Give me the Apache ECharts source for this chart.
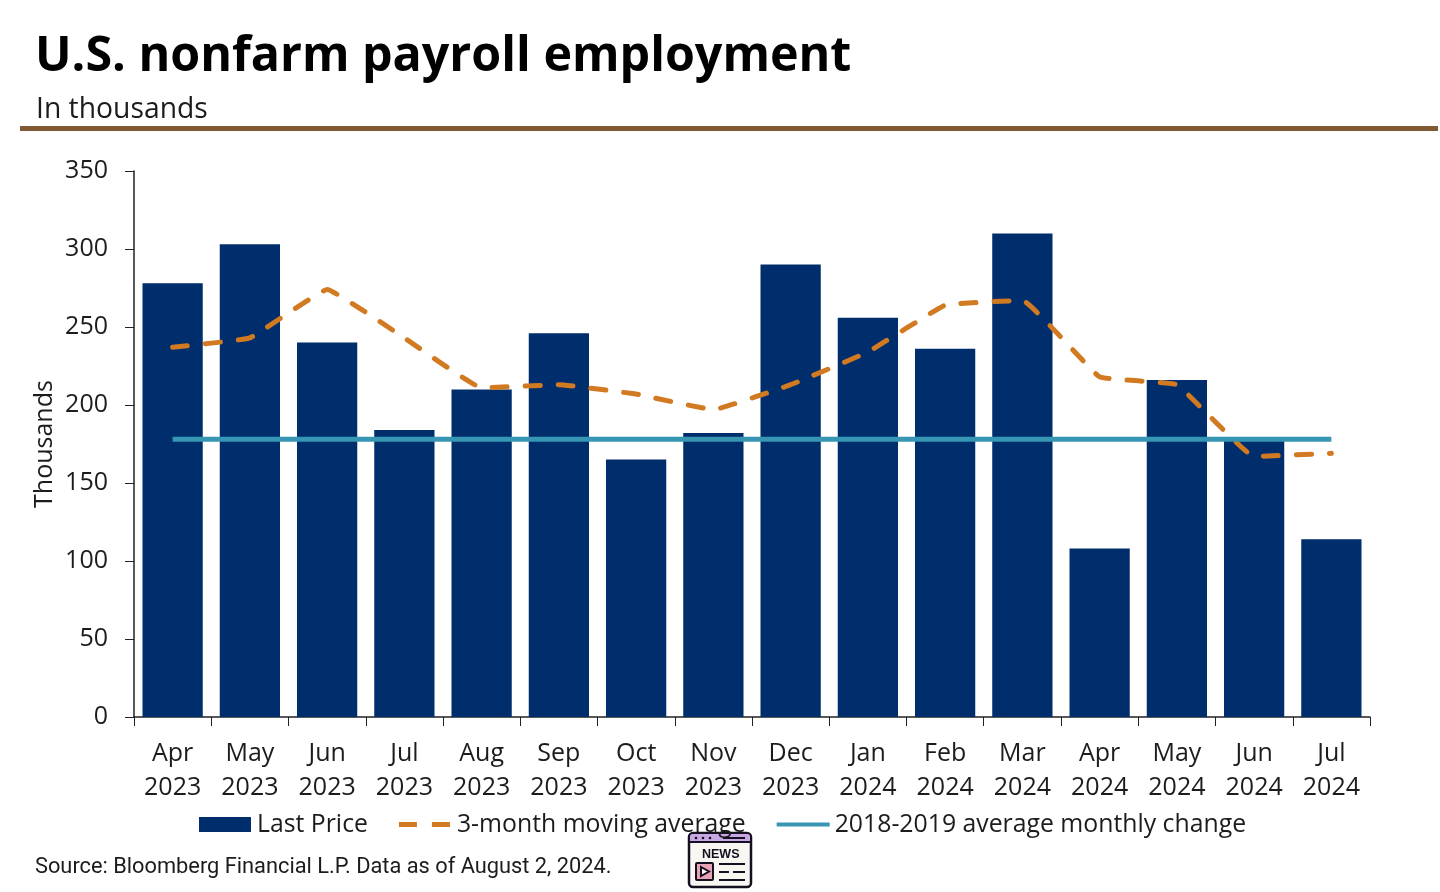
<!DOCTYPE html>
<html><head><meta charset="utf-8">
<script src="https://cdn.jsdelivr.net/npm/echarts@6/dist/echarts.min.js"></script>
<style>html,body{margin:0;padding:0;background:#fff}#c{width:1440px;height:892px}</style></head>
<body><div id="c"></div>
<script>
const categories=["Apr\n2023","May\n2023","Jun\n2023","Jul\n2023","Aug\n2023","Sep\n2023","Oct\n2023","Nov\n2023","Dec\n2023","Jan\n2024","Feb\n2024","Mar\n2024","Apr\n2024","May\n2024","Jun\n2024","Jul\n2024"];
const lastPrice=[278,303,240,184,210,246,165,182,290,256,236,310,108,216,177,114];
const movingAvg=[237,243,274,243,211,213,207,197,213,234,264,267,218,213,167,169];
const avgChange=[178,178,178,178,178,178,178,178,178,178,178,178,178,178,178,178];
const seriesNames=['Last Price','3-month moving average','2018-2019 average monthly change'];
const font='"Open Sans"';
const orange='#d17a22', teal='#3796b3', navy='#002d6b', ink='#1c1c1c';
const speck='M52.95,14.95h.05v.05h-.05zM0,0h.05v.05h-.05z';
const iconBar='path://M0,0H52V15H0Z'+speck;
const iconDash='path://M0,5H18V10H0ZM33,5H51V10H33Z'+speck;
const iconLine='path://M0,5.5H53V9.5H0Z'+speck;
const chart=echarts.init(document.getElementById('c'));
chart.setOption({
 animation:false,
 title:[
  {text:'U.S. nonfarm payroll employment',left:30,top:28,textStyle:{fontFamily:font,fontWeight:700,fontSize:48.4,color:'#000'}},
  {text:'In thousands',left:31,top:91,textStyle:{fontFamily:font,fontWeight:400,fontSize:28.3,color:ink}}
 ],
 grid:{left:134,right:70,top:171,bottom:175},
 legend:{top:807,left:194,itemGap:31,itemWidth:53,itemHeight:15,textStyle:{fontFamily:font,fontSize:24.8,color:ink},
  data:[{name:seriesNames[0],icon:iconBar},{name:seriesNames[1],icon:iconDash},{name:seriesNames[2],icon:iconLine}]},
 xAxis:{type:'category',data:categories,
  axisLine:{lineStyle:{color:'#222',width:1.5}},axisTick:{show:true,length:9,lineStyle:{color:'#222'}},
  axisLabel:{fontFamily:font,fontSize:25,color:ink,margin:20,lineHeight:34,interval:0}},
 yAxis:{type:'value',min:0,max:350,interval:50,name:'Thousands',nameLocation:'middle',nameGap:77,nameMoveOverlap:false,
  nameTextStyle:{fontFamily:font,fontSize:25,color:ink},
  splitLine:{show:false},
  axisLine:{show:true,lineStyle:{color:'#222',width:1.5}},axisTick:{show:true,length:9,lineStyle:{color:'#222'}},
  axisLabel:{fontFamily:font,fontSize:25,color:ink,margin:26}},
 series:[
  {name:seriesNames[0],type:'bar',data:lastPrice,barWidth:'78%',itemStyle:{color:navy}},
  {name:seriesNames[1],type:'line',data:movingAvg,smooth:0.08,symbol:'none',lineStyle:{color:orange,width:5,type:[15,18],cap:'round'},itemStyle:{color:orange}},
  {name:seriesNames[2],type:'line',data:avgChange,symbol:'none',lineStyle:{color:teal,width:5},itemStyle:{color:teal}}
 ],
 graphic:[
  {type:'rect',shape:{x:20,y:126,width:1418,height:5},style:{fill:'#7f5a35'}},
  {type:'text',x:35,y:857,style:{text:'Source: Bloomberg Financial L.P. Data as of August 2, 2024.',font:'21.8px Roboto',fill:ink}},
  {type:'group',z:100,children:[
   {type:'rect',shape:{x:689,y:833,width:62,height:54,r:4},style:{fill:'#faf6f2',stroke:'#151020',lineWidth:2.5}},
   {type:'rect',shape:{x:690,y:834,width:60,height:8,r:3},style:{fill:'#c9a6e4'}},
   {type:'line',shape:{x1:689,y1:842,x2:751,y2:842},style:{stroke:'#151020',lineWidth:2}},
   {type:'line',shape:{x1:723,y1:838,x2:745,y2:838},style:{stroke:'#151020',lineWidth:2}},
   {type:'circle',shape:{cx:696,cy:838,r:1.3},style:{fill:'#151020'}},
   {type:'circle',shape:{cx:703,cy:838,r:1.3},style:{fill:'#151020'}},
   {type:'circle',shape:{cx:710,cy:838,r:1.3},style:{fill:'#151020'}},
   {type:'text',x:702,y:848,style:{text:'NEWS',font:'bold 12.5px "Liberation Sans"',fill:'#151020'}},
   {type:'rect',shape:{x:696,y:863,width:17,height:17,r:1},style:{fill:'#e9a3b4',stroke:'#151020',lineWidth:2}},
   {type:'polygon',shape:{points:[[701,867],[709,871.5],[701,876]]},style:{fill:'#faf6f2',stroke:'#151020',lineWidth:2}},
   {type:'line',shape:{x1:719,y1:864,x2:745,y2:864},style:{stroke:'#151020',lineWidth:2}},
   {type:'line',shape:{x1:719,y1:872,x2:729,y2:872},style:{stroke:'#151020',lineWidth:2}},
   {type:'line',shape:{x1:733,y1:872,x2:745,y2:872},style:{stroke:'#151020',lineWidth:2}},
   {type:'line',shape:{x1:719,y1:880,x2:745,y2:880},style:{stroke:'#151020',lineWidth:2}}
  ]}
 ]
});
</script></body></html>
